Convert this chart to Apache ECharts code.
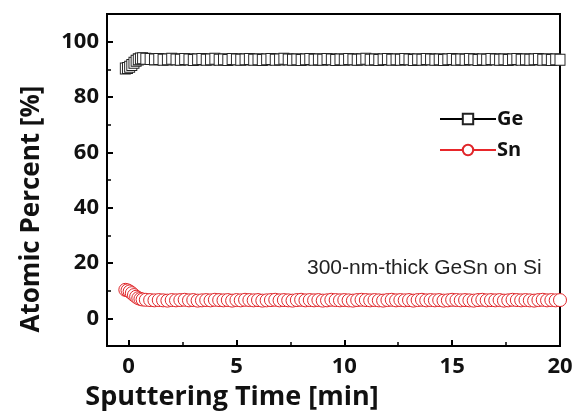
<!DOCTYPE html>
<html>
<head>
<meta charset="utf-8">
<script src="https://cdn.jsdelivr.net/npm/echarts@6/dist/echarts.min.js"></script>
<style>html,body{margin:0;padding:0;background:#fff}#c{width:577px;height:411px}</style>
</head>
<body>
<div id="c"></div>
<script>
const times = [-0.15,-0.05,0.05,0.15,0.25,0.35,0.45,0.55,0.65,
0.8,1,1.2,1.4,1.6,1.8,2,2.2,2.4,2.6,2.8,3,3.2,3.4,3.6,3.8,4,4.2,4.4,4.6,4.8,
5,5.2,5.4,5.6,5.8,6,6.2,6.4,6.6,6.8,7,7.2,7.4,7.6,7.8,8,8.2,8.4,8.6,8.8,
9,9.2,9.4,9.6,9.8,10,10.2,10.4,10.6,10.8,11,11.2,11.4,11.6,11.8,12,12.2,12.4,12.6,12.8,
13,13.2,13.4,13.6,13.8,14,14.2,14.4,14.6,14.8,15,15.2,15.4,15.6,15.8,16,16.2,16.4,16.6,16.8,
17,17.2,17.4,17.6,17.8,18,18.2,18.4,18.6,18.8,19,19.2,19.4,19.6,19.8,20];

const geValues = [90.3,90.5,90.9,91.6,92.4,93.1,93.6,93.9,94.0,
93.8,93.7,93.6,93.7,93.5,93.6,93.8,93.6,93.5,93.7,
93.6,93.4,93.6,93.7,93.5,93.6,93.8,93.5,93.6,93.4,
93.7,93.6,93.5,93.6,93.7,93.5,93.6,93.4,93.6,93.7,
93.5,93.6,93.8,93.6,93.5,93.6,93.4,93.6,93.7,93.5,
93.6,93.5,93.7,93.6,93.4,93.6,93.5,93.7,93.6,93.5,
93.6,93.8,93.5,93.6,93.4,93.6,93.7,93.5,93.6,93.5,
93.7,93.6,93.4,93.6,93.5,93.7,93.6,93.5,93.6,93.4,
93.6,93.7,93.5,93.6,93.5,93.7,93.6,93.4,93.6,93.5,
93.7,93.6,93.5,93.6,93.4,93.6,93.7,93.5,93.6,93.5,
93.6,93.7,93.5,93.6,93.4,93.6,93.5];

const snValues = [10.3,10.1,9.7,9.1,8.4,7.8,7.3,7.0,6.8,
6.7,6.6,6.5,6.6,6.5,6.4,6.6,6.5,6.6,6.7,
6.5,6.6,6.4,6.5,6.6,6.5,6.7,6.6,6.5,6.6,
6.4,6.6,6.5,6.7,6.6,6.5,6.6,6.4,6.5,6.6,
6.7,6.5,6.6,6.5,6.4,6.6,6.7,6.5,6.6,6.5,
6.6,6.4,6.5,6.7,6.6,6.5,6.6,6.5,6.4,6.6,
6.7,6.6,6.5,6.6,6.5,6.4,6.6,6.7,6.5,6.6,
6.5,6.6,6.4,6.6,6.7,6.5,6.6,6.5,6.6,6.4,
6.5,6.7,6.6,6.5,6.6,6.5,6.4,6.6,6.7,6.5,
6.6,6.5,6.6,6.4,6.5,6.7,6.6,6.5,6.6,6.5,
6.4,6.6,6.7,6.5,6.6,6.5,6.6];

const xMajorTicks = [0,5,10,15,20];
const xMinorTicks = [2.5,7.5,12.5,17.5];
const yMajorTicks = [0,20,40,60,80,100];
const yMinorTicks = [-10,10,30,50,70,90,110];

const seriesNames = ['Ge','Sn'];
const xTitle = 'Sputtering Time [min]';
const yTitle = 'Atomic Percent [%]';
const note = '300-nm-thick GeSn on Si';

const FONT = '"Open Sans", "Noto Sans", sans-serif';
const chart = echarts.init(document.getElementById('c'), null, {renderer:'canvas'});

const xCommon = {type:'value', min:-1, max:20, splitLine:{show:false}};
const yCommon = {type:'value', min:-10, max:110, splitLine:{show:false}};

chart.setOption({
  animation:false,
  backgroundColor:'#fff',
  grid:{left:107, right:17, top:14, bottom:65, show:true, borderColor:'#000', borderWidth:2, backgroundColor:'transparent'},
  xAxis:[
    Object.assign({}, xCommon, {
      position:'bottom',
      axisLine:{show:true, onZero:false, lineStyle:{color:'#000', width:2}},
      axisTick:{show:true, inside:true, length:6, lineStyle:{color:'#000', width:2}, customValues:xMajorTicks},
      axisLabel:{show:true, margin:10, color:'#111', fontFamily:FONT, fontWeight:'bold', fontSize:22, customValues:xMajorTicks}
    }),
    Object.assign({}, xCommon, {
      position:'bottom',
      axisLine:{show:false, onZero:false},
      axisTick:{show:true, inside:true, length:4, lineStyle:{color:'#000', width:1.5}, customValues:xMinorTicks},
      axisLabel:{show:false}
    })
  ],
  yAxis:[
    Object.assign({}, yCommon, {
      position:'left',
      axisLine:{show:true, onZero:false, lineStyle:{color:'#000', width:2}},
      axisTick:{show:true, inside:true, length:6, lineStyle:{color:'#000', width:2}, customValues:yMajorTicks},
      axisLabel:{show:true, margin:8, color:'#111', fontFamily:FONT, fontWeight:'bold', fontSize:22, customValues:yMajorTicks}
    }),
    Object.assign({}, yCommon, {
      position:'left',
      axisLine:{show:false, onZero:false},
      axisTick:{show:true, inside:true, length:4, lineStyle:{color:'#000', width:1.5}, customValues:yMinorTicks},
      axisLabel:{show:false}
    })
  ],
  legend:{
    orient:'vertical', left:434, top:104, itemWidth:56, itemHeight:13, itemGap:11,
    textStyle:{fontFamily:FONT, fontWeight:'bold', fontSize:20, color:'#111', padding:[0,0,0,-4]},
    data:seriesNames
  },
  series:[
    {
      name:seriesNames[0], type:'line', xAxisIndex:0, yAxisIndex:0,
      data:times.map((t,i)=>[t, geValues[i]]),
      symbol:'rect', symbolSize:[10,11], showAllSymbol:true,
      lineStyle:{color:'#000', width:1.2},
      itemStyle:{color:'#fff', borderColor:'#222', borderWidth:1},
      clip:true, z:3
    },
    {
      name:seriesNames[1], type:'line', xAxisIndex:0, yAxisIndex:0,
      data:times.map((t,i)=>[t, snValues[i]]),
      symbol:'circle', symbolSize:13, showAllSymbol:true,
      lineStyle:{color:'#e8262a', width:1.2},
      itemStyle:{color:'#fff', borderColor:'#e0262a', borderWidth:1},
      clip:true, z:3
    }
  ],
  graphic:[
    {type:'text', x:32, y:209, rotation:Math.PI/2,
     style:{text:yTitle, fill:'#111', font:'bold 26px '+FONT, align:'center', verticalAlign:'middle'}},
    {type:'text', x:232, y:397,
     style:{text:xTitle, fill:'#111', font:'bold 27px '+FONT, align:'center', verticalAlign:'middle'}},
    {type:'text', x:307, y:268,
     style:{text:note, fill:'#222', font:'21px "Liberation Sans", Arial, sans-serif', align:'left', verticalAlign:'middle'}}
  ]
});
</script>
</body>
</html>
